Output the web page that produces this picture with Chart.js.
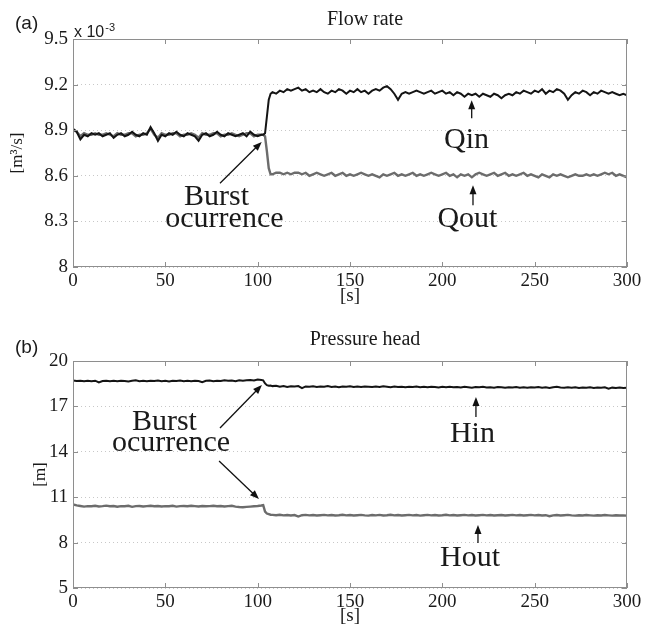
<!DOCTYPE html>
<html>
<head>
<meta charset="utf-8">
<title>Flow rate / Pressure head</title>
<script src="https://cdn.jsdelivr.net/npm/chart.js@4.4.1/dist/chart.umd.min.js"></script>
<style>
    html, body { margin: 0; padding: 0; background: #fff; overflow: hidden; }
    .painel { position: absolute; left: 0; width: 650px; }
</style>
</head>
<body>
<div class="painel" style="top:0;height:316px"><canvas id="chart-vazao" width="650" height="316"></canvas></div>
<div class="painel" style="top:322px;height:311px"><canvas id="chart-pressao" width="650" height="311"></canvas></div>
<script>
// =================================================================
// Detecção de ruptura: vazão (a) e carga de pressão (b)
// =================================================================

// Tempo [s]
const tempo = [
    0, 2, 4, 6, 8, 10, 12, 14, 16, 18,
    20, 22, 24, 26, 28, 30, 32, 34, 36, 38,
    40, 42, 44, 46, 48, 50, 52, 54, 56, 58,
    60, 62, 64, 66, 68, 70, 72, 74, 76, 78,
    80, 82, 84, 86, 88, 90, 92, 94, 96, 98,
    100, 102, 103, 104, 105, 106, 107,
    108, 110, 112, 114, 116, 118, 120, 122, 124, 126,
    128, 130, 132, 134, 136, 138, 140, 142, 144, 146,
    148, 150, 152, 154, 156, 158, 160, 162, 164, 166,
    168, 170, 172, 174, 176, 178, 180, 182, 184, 186,
    188, 190, 192, 194, 196, 198, 200, 202, 204, 206,
    208, 210, 212, 214, 216, 218, 220, 222, 224, 226,
    228, 230, 232, 234, 236, 238, 240, 242, 244, 246,
    248, 250, 252, 254, 256, 258, 260, 262, 264, 266,
    268, 270, 272, 274, 276, 278, 280, 282, 284, 286,
    288, 290, 292, 294, 296, 298, 300
];

// Vazão de entrada Qin [x 10^-3 m3/s]
const qin = [
    8.91, 8.89, 8.84, 8.87, 8.86, 8.88, 8.87, 8.88, 8.86, 8.87,
    8.88, 8.85, 8.87, 8.88, 8.86, 8.87, 8.89, 8.87, 8.86, 8.88,
    8.87, 8.92, 8.88, 8.83, 8.87, 8.86, 8.88, 8.87, 8.89, 8.87,
    8.86, 8.88, 8.87, 8.86, 8.83, 8.87, 8.88, 8.86, 8.87, 8.89,
    8.87, 8.86, 8.88, 8.87, 8.86, 8.87, 8.88, 8.86, 8.89, 8.87,
    8.86, 8.87, 8.87, 8.88, 8.99, 9.10, 9.14,
    9.15, 9.14, 9.16, 9.15, 9.17, 9.16, 9.17, 9.18, 9.16, 9.17,
    9.15, 9.16, 9.15, 9.17, 9.15, 9.14, 9.16, 9.15, 9.17, 9.16,
    9.14, 9.16, 9.15, 9.17, 9.15, 9.16, 9.14, 9.16, 9.17, 9.16,
    9.18, 9.19, 9.17, 9.14, 9.10, 9.14, 9.15, 9.14, 9.15, 9.16,
    9.15, 9.14, 9.15, 9.16, 9.14, 9.15, 9.16, 9.14, 9.15, 9.13,
    9.15, 9.14, 9.12, 9.14, 9.13, 9.14, 9.12, 9.14, 9.13, 9.12,
    9.14, 9.13, 9.11, 9.13, 9.14, 9.13, 9.15, 9.14, 9.16, 9.15,
    9.14, 9.16, 9.15, 9.17, 9.14, 9.16, 9.15, 9.17, 9.16, 9.14,
    9.10, 9.13, 9.15, 9.14, 9.16, 9.15, 9.13, 9.15, 9.14, 9.16,
    9.15, 9.14, 9.15, 9.14, 9.13, 9.14, 9.13
];

// Vazão de saída Qout [x 10^-3 m3/s]
const qout = [
    8.90, 8.89, 8.86, 8.88, 8.87, 8.87, 8.88, 8.87, 8.87, 8.88,
    8.87, 8.86, 8.88, 8.87, 8.87, 8.88, 8.88, 8.86, 8.87, 8.87,
    8.88, 8.91, 8.87, 8.85, 8.88, 8.87, 8.87, 8.88, 8.88, 8.86,
    8.87, 8.87, 8.88, 8.87, 8.85, 8.88, 8.87, 8.87, 8.88, 8.88,
    8.86, 8.87, 8.87, 8.88, 8.87, 8.86, 8.87, 8.88, 8.88, 8.86,
    8.87, 8.87, 8.87, 8.86, 8.76, 8.65, 8.61,
    8.61, 8.62, 8.62, 8.61, 8.62, 8.61, 8.62, 8.62, 8.61, 8.62,
    8.60, 8.61, 8.62, 8.61, 8.60, 8.61, 8.62, 8.60, 8.61, 8.62,
    8.60, 8.61, 8.60, 8.61, 8.62, 8.61, 8.60, 8.61, 8.60, 8.59,
    8.61, 8.60, 8.61, 8.62, 8.60, 8.61, 8.60, 8.61, 8.62, 8.60,
    8.61, 8.60, 8.61, 8.62, 8.61, 8.60, 8.61, 8.62, 8.60, 8.61,
    8.59, 8.61, 8.60, 8.61, 8.59, 8.61, 8.62, 8.61, 8.60, 8.61,
    8.62, 8.60, 8.61, 8.62, 8.60, 8.61, 8.60, 8.61, 8.62, 8.60,
    8.61, 8.60, 8.59, 8.61, 8.60, 8.59, 8.61, 8.60, 8.61, 8.60,
    8.59, 8.60, 8.61, 8.60, 8.60, 8.61, 8.60, 8.61, 8.60, 8.61,
    8.62, 8.61, 8.62, 8.60, 8.61, 8.60, 8.59
];

// Carga de pressão na entrada Hin [m]
const hin = [
    18.72, 18.68, 18.70, 18.66, 18.69, 18.67, 18.70, 18.58, 18.68, 18.70,
    18.67, 18.69, 18.66, 18.70, 18.68, 18.65, 18.69, 18.72, 18.67, 18.69,
    18.66, 18.70, 18.68, 18.71, 18.66, 18.69, 18.64, 18.70, 18.68, 18.71,
    18.67, 18.69, 18.66, 18.70, 18.68, 18.60, 18.69, 18.71, 18.67, 18.70,
    18.68, 18.72, 18.69, 18.71, 18.67, 18.73, 18.70, 18.72, 18.74, 18.71,
    18.78, 18.74, 18.72, 18.52, 18.40, 18.36, 18.38,
    18.34, 18.36, 18.30, 18.35, 18.28, 18.33, 18.31, 18.34, 18.20, 18.32,
    18.30, 18.33, 18.29, 18.32, 18.30, 18.34, 18.29, 18.31, 18.27, 18.32,
    18.30, 18.33, 18.28, 18.31, 18.29, 18.32, 18.30, 18.28, 18.31, 18.29,
    18.33, 18.30, 18.27, 18.31, 18.28, 18.30, 18.26, 18.30, 18.28, 18.31,
    18.27, 18.29, 18.26, 18.30, 18.28, 18.25, 18.29, 18.27, 18.30, 18.26,
    18.28, 18.25, 18.29, 18.27, 18.24, 18.28, 18.26, 18.29, 18.25, 18.27,
    18.24, 18.28, 18.26, 18.23, 18.27, 18.25, 18.28, 18.24, 18.26, 18.23,
    18.27, 18.25, 18.28, 18.24, 18.26, 18.22, 18.26, 18.29, 18.25, 18.23,
    18.26, 18.24, 18.27, 18.22, 18.25, 18.23, 18.26, 18.22, 18.25, 18.23,
    18.26, 18.17, 18.24, 18.22, 18.25, 18.21, 18.23
];

// Carga de pressão na saída Hout [m]
const hout = [
    10.52, 10.46, 10.42, 10.38, 10.41, 10.40, 10.43, 10.39, 10.41, 10.44,
    10.40, 10.42, 10.37, 10.41, 10.40, 10.43, 10.36, 10.41, 10.42, 10.39,
    10.41, 10.43, 10.40, 10.42, 10.39, 10.41, 10.40, 10.43, 10.38, 10.41,
    10.42, 10.40, 10.43, 10.41, 10.39, 10.42, 10.40, 10.41, 10.43, 10.40,
    10.42, 10.39, 10.41, 10.43, 10.38, 10.35, 10.34, 10.36, 10.38, 10.40,
    10.42, 10.45, 10.48, 10.05, 9.92, 9.88, 9.84,
    9.83, 9.81, 9.84, 9.80, 9.82, 9.79, 9.82, 9.72, 9.81, 9.83,
    9.80, 9.82, 9.79, 9.81, 9.83, 9.80, 9.82, 9.79, 9.81, 9.84,
    9.80, 9.82, 9.79, 9.81, 9.83, 9.80, 9.78, 9.82, 9.80, 9.83,
    9.79, 9.81, 9.84, 9.80, 9.82, 9.79, 9.81, 9.83, 9.80, 9.82,
    9.78, 9.81, 9.83, 9.80, 9.82, 9.79, 9.81, 9.84, 9.80, 9.82,
    9.79, 9.81, 9.83, 9.80, 9.82, 9.79, 9.81, 9.83, 9.80, 9.82,
    9.79, 9.81, 9.82, 9.79, 9.81, 9.83, 9.80, 9.82, 9.79, 9.81,
    9.83, 9.80, 9.82, 9.79, 9.81, 9.74, 9.80, 9.82, 9.79, 9.81,
    9.83, 9.80, 9.78, 9.81, 9.79, 9.82, 9.80, 9.78, 9.81, 9.79,
    9.82, 9.80, 9.78, 9.81, 9.79, 9.80, 9.78
];

// Marcas dos eixos
const ticksTempo = [0, 50, 100, 150, 200, 250, 300];
const ticksVazao = [8, 8.3, 8.6, 8.9, 9.2, 9.5];
const ticksPressao = [5, 8, 11, 14, 17, 20];

const FONTE_SERIF = '"Liberation Serif", "Times New Roman", serif';
const FONTE_SANS = '"Liberation Sans", Arial, sans-serif';
const COR_TEXTO = '#1a1a1a';

// Moldura do eixo com marcas internas (estilo MATLAB)
const moldura = {
    id: 'moldura',
    afterDatasetsDraw(chart) {
        const { ctx, chartArea: a, scales: { x, y } } = chart;
        ctx.save();
        ctx.strokeStyle = '#8e8e8e';
        ctx.lineWidth = 1;
        ctx.strokeRect(Math.round(a.left) + 0.5, Math.round(a.top) + 0.5,
            Math.round(a.right - a.left) - 1, Math.round(a.bottom - a.top) - 1);
        ctx.beginPath();
        x.ticks.forEach(t => {
            const px = Math.round(x.getPixelForValue(t.value)) + 0.5;
            ctx.moveTo(px, a.bottom); ctx.lineTo(px, a.bottom - 5);
            ctx.moveTo(px, a.top); ctx.lineTo(px, a.top + 5);
        });
        y.ticks.forEach(t => {
            const py = Math.round(y.getPixelForValue(t.value)) + 0.5;
            ctx.moveTo(a.left, py); ctx.lineTo(a.left + 5, py);
            ctx.moveTo(a.right, py); ctx.lineTo(a.right - 5, py);
        });
        ctx.stroke();
        ctx.restore();
    }
};

// Textos do painel: letra, título e multiplicador
const textosPainel = {
    id: 'textosPainel',
    afterDraw(chart, args, opts) {
        const ctx = chart.ctx;
        ctx.save();
        ctx.fillStyle = COR_TEXTO;
        ctx.textBaseline = 'alphabetic';
        ctx.textAlign = 'left';
        ctx.font = '19px ' + FONTE_SANS;
        ctx.fillText(opts.letra, 15, opts.letraY);
        if (opts.multiplicador) {
            ctx.font = '16px ' + FONTE_SANS;
            ctx.fillText('x 10', 74, 37);
            const w = ctx.measureText('x 10').width;
            ctx.font = '11px ' + FONTE_SANS;
            ctx.fillText('-3', 74 + w + 1, 31);
        }
        ctx.textAlign = 'center';
        ctx.font = '20px ' + FONTE_SERIF;
        ctx.fillText(opts.titulo, 365, opts.tituloY);
        ctx.restore();
    }
};

// Setas e rótulos posicionados em coordenadas de dados
const anotacoes = {
    id: 'anotacoes',
    afterDatasetsDraw(chart, args, opts) {
        const { ctx, scales: { x, y } } = chart;
        ctx.save();
        ctx.fillStyle = '#111';
        ctx.strokeStyle = '#111';
        ctx.lineWidth = 1.3;
        (opts.setas || []).forEach(([t0, v0, t1, v1]) => {
            const x0 = x.getPixelForValue(t0), y0 = y.getPixelForValue(v0);
            const x1 = x.getPixelForValue(t1), y1 = y.getPixelForValue(v1);
            const ang = Math.atan2(y1 - y0, x1 - x0);
            const c = Math.cos(ang), s = Math.sin(ang);
            ctx.beginPath();
            ctx.moveTo(x0, y0);
            ctx.lineTo(x1 - 7 * c, y1 - 7 * s);
            ctx.stroke();
            ctx.beginPath();
            ctx.moveTo(x1, y1);
            ctx.lineTo(x1 - 9 * c + 3.5 * s, y1 - 9 * s - 3.5 * c);
            ctx.lineTo(x1 - 9 * c - 3.5 * s, y1 - 9 * s + 3.5 * c);
            ctx.closePath();
            ctx.fill();
        });
        ctx.fillStyle = COR_TEXTO;
        ctx.font = '30px ' + FONTE_SERIF;
        ctx.textAlign = 'center';
        ctx.textBaseline = 'alphabetic';
        (opts.rotulos || []).forEach(([texto, t, v]) => {
            ctx.fillText(texto, x.getPixelForValue(t), y.getPixelForValue(v));
        });
        ctx.restore();
    }
};

function serie(valores) {
    return tempo.map((t, i) => ({ x: t, y: valores[i] }));
}

function criarGrafico(id, cfg) {
    const canvas = document.getElementById(id);
    const fonteTick = { family: FONTE_SERIF, size: 19 };
    return new Chart(canvas, {
        type: 'line',
        data: {
            datasets: [
                { label: cfg.nomes[0], data: serie(cfg.entrada), borderColor: '#141414', borderWidth: 2, order: 0 },
                { label: cfg.nomes[1], data: serie(cfg.saida), borderColor: '#6c6c6c', borderWidth: 2.4, order: 1 }
            ]
        },
        options: {
            responsive: false,
            animation: false,
            events: [],
            elements: { point: { radius: 0 }, line: { tension: 0 } },
            layout: { padding: { left: 0, right: 23, top: cfg.topoArea, bottom: 0 } },
            plugins: {
                legend: { display: false },
                tooltip: { enabled: false },
                textosPainel: cfg.textos,
                anotacoes: cfg.anotacoes
            },
            scales: {
                x: {
                    type: 'linear',
                    min: 0,
                    max: 300,
                    afterBuildTicks: s => { s.ticks = ticksTempo.map(v => ({ value: v })); },
                    afterFit: s => { s.height = canvas.height - cfg.baseArea; },
                    grid: { display: false, drawTicks: false },
                    border: { display: false },
                    ticks: { font: fonteTick, color: COR_TEXTO, padding: 3, maxRotation: 0, autoSkip: false, callback: v => String(v) },
                    title: { display: true, text: '[s]', font: fonteTick, color: COR_TEXTO, padding: { top: 0, bottom: cfg.padTituloX } }
                },
                y: {
                    min: cfg.ticksY[0],
                    max: cfg.ticksY[cfg.ticksY.length - 1],
                    afterBuildTicks: s => { s.ticks = cfg.ticksY.map(v => ({ value: v })); },
                    afterFit: s => { s.width = 73; },
                    grid: { color: '#c8c8c8', lineWidth: 1, drawTicks: false },
                    border: { display: false, dash: [1, 3] },
                    ticks: { font: fonteTick, color: COR_TEXTO, padding: 5, autoSkip: false, callback: v => String(v) },
                    title: { display: true, text: cfg.tituloY, font: { family: FONTE_SERIF, size: 17 }, color: COR_TEXTO, padding: { top: cfg.padTituloY, bottom: 0 } }
                }
            }
        },
        plugins: [moldura, textosPainel, anotacoes]
    });
}

// (a) Vazão
criarGrafico('chart-vazao', {
    nomes: ['Qin', 'Qout'],
    entrada: qin,
    saida: qout,
    ticksY: ticksVazao,
    tituloY: '[m\u00b3/s]',
    topoArea: 39,
    baseArea: 267,
    padTituloX: 9,
    padTituloY: 7,
    textos: { letra: '(a)', letraY: 29, titulo: 'Flow rate', tituloY: 25, multiplicador: true },
    anotacoes: {
        setas: [[79.6, 8.551, 102.2, 8.823], [215.9, 8.979, 215.9, 9.097], [216.6, 8.406, 216.6, 8.538]],
        rotulos: [['Burst', 77.7, 8.406], ['ocurrence', 82.0, 8.262], ['Qin', 213.1, 8.785], ['Qout', 213.6, 8.265]]
    }
});

// (b) Carga de pressão
criarGrafico('chart-pressao', {
    nomes: ['Hin', 'Hout'],
    entrada: hin,
    saida: hout,
    ticksY: ticksPressao,
    tituloY: '[m]',
    topoArea: 39,
    baseArea: 266,
    padTituloX: 6,
    padTituloY: 30,
    textos: { letra: '(b)', letraY: 31, titulo: 'Pressure head', tituloY: 23, multiplicador: false },
    anotacoes: {
        setas: [[79.6, 15.57, 102.3, 18.41], [79.1, 13.39, 100.7, 10.88], [218.2, 16.30, 218.2, 17.62], [219.3, 7.97, 219.3, 9.16]],
        rotulos: [['Burst', 49.5, 15.44], ['ocurrence', 53.1, 14.05], ['Hin', 216.3, 14.65], ['Hout', 215.0, 6.45]]
    }
});
</script>
</body>
</html>
